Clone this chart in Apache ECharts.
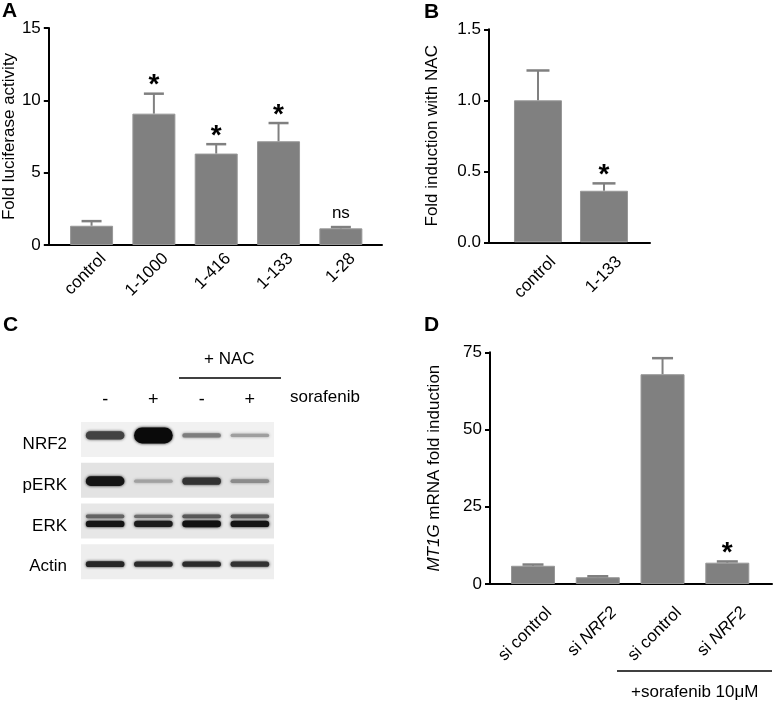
<!DOCTYPE html>
<html>
<head>
<meta charset="utf-8">
<script src="https://cdn.jsdelivr.net/npm/echarts@6/dist/echarts.min.js"></script>
<style>
  html, body { margin: 0; padding: 0; background: #fff; }
  #chart { width: 773px; height: 702px; }
</style>
</head>
<body>
<div id="chart"></div>
<script>
// panel A: luciferase reporter
const aCats = ['control', '1-1000', '1-416', '1-133', '1-28'];
const aMeans = [1.33, 9.08, 6.32, 7.17, 1.15];
const aErrTop = [1.65, 10.46, 6.97, 8.43, 1.24];
const aMarks = ['', '*', '*', '*', 'ns'];

// panel B: fold induction with NAC
const bCats = ['control', '1-133'];
const bMeans = [1.0, 0.363];
const bErrTop = [1.21, 0.415];
const bMarks = ['', '*'];

// panel D: MT1G mRNA
const dCats = ['si control', 'si NRF2', 'si control', 'si NRF2'];
const dMeans = [5.9, 2.2, 67.9, 6.9];
const dErrTop = [6.3, 2.5, 73.1, 7.3];
const dMarks = ['', '', '', '*'];

// panel C: western blot, band intensity 0..1 per lane
const blotRows = ['NRF2', 'pERK', 'ERK', 'Actin'];
const blotLanes = ['-', '+', '-', '+'];
const nrf2Band = [0.75, 1.0, 0.48, 0.33];
const perkBand = [0.95, 0.32, 0.82, 0.42];
const erkUpperBand = [0.6, 0.55, 0.65, 0.65];
const erkLowerBand = [0.95, 0.92, 0.97, 0.95];
const actinBand = [0.88, 0.85, 0.85, 0.82];

const FONT = '"Liberation Sans", Arial, sans-serif';
const BAR = '#808080';
const FS = 17;

const chart = echarts.init(document.getElementById('chart'));

// error bar + significance mark
const makeErr = (marks, capW) => (params, api) => {
  const x = api.value(0);
  const p0 = api.coord([x, api.value(1)]);
  const p1 = api.coord([x, api.value(2)]);
  const mark = marks[params.dataIndex];
  const kids = [
    { type: 'line', shape: { x1: p0[0], y1: p0[1], x2: p1[0], y2: p1[1] }, style: { stroke: BAR, lineWidth: 2 } },
    { type: 'line', shape: { x1: p1[0] - capW / 2, y1: p1[1], x2: p1[0] + capW / 2, y2: p1[1] }, style: { stroke: BAR, lineWidth: 2.5 } }
  ];
  if (mark) {
    const star = mark === '*';
    kids.push({
      type: 'text', x: p1[0], y: p1[1] - (star ? 8 : 14),
      style: { text: mark, fill: '#000', fontFamily: FONT, fontSize: star ? 28 : FS,
               fontWeight: star ? 'bold' : 'normal', align: 'center', verticalAlign: 'middle' }
    });
  }
  return { type: 'group', children: kids };
};

const barSeries = (idx, means, w) => ({
  type: 'bar', xAxisIndex: idx, yAxisIndex: idx, barWidth: w,
  data: means.map((v, i) => [i, v]),
  itemStyle: { color: BAR, borderColor: '#979797', borderWidth: 1 },
  z: 2
});
const errSeries = (idx, means, tops, marks, capW) => ({
  type: 'custom', xAxisIndex: idx, yAxisIndex: idx,
  data: means.map((v, i) => [i, v, tops[i]]),
  renderItem: makeErr(marks, capW),
  z: 3
});

const italic = { i: { fontStyle: 'italic', fontSize: FS, fontFamily: FONT, color: '#000' } };
// labels sit right of the bar centres in the original, so shift them a bit
const catAxis = (grid, cats, min, max, shift, margin, fmt) => ({
  gridIndex: grid, type: 'value', min: min, max: max,
  axisLine: { show: true, onZero: false, lineStyle: { color: '#000', width: 2 } },
  axisTick: { show: false }, splitLine: { show: false },
  axisLabel: {
    customValues: cats.map((c, i) => i + shift), rotate: 45, margin: margin,
    color: '#000', fontSize: FS, fontFamily: FONT,
    formatter: fmt || (v => cats[Math.round(v)]),
    rich: italic
  }
});
const valAxis = (grid, max, interval, name, gap, fmt) => ({
  gridIndex: grid, type: 'value', min: 0, max: max, interval: interval,
  axisLine: { show: true, onZero: false, lineStyle: { color: '#000', width: 2 } },
  axisTick: { show: true, length: 5, lineStyle: { color: '#000', width: 2 } },
  splitLine: { show: false },
  axisLabel: { color: '#000', fontSize: FS, fontFamily: FONT, margin: 8, formatter: fmt },
  name: name, nameLocation: 'middle', nameGap: gap,
  nameTextStyle: { color: '#000', fontSize: FS, fontFamily: FONT, rich: italic }
});

// blot band table built from the lane arrays: [lane, row, intensity, offset, max thickness]
const bandData = [];
nrf2Band.forEach((v, l) => bandData.push([l, 0, v, -4, 13]));
perkBand.forEach((v, l) => bandData.push([l, 1, v, 1, 8]));
erkUpperBand.forEach((v, l) => bandData.push([l, 2, v, -4.5, 3]));
erkLowerBand.forEach((v, l) => bandData.push([l, 2, v, 3, 4]));
actinBand.forEach((v, l) => bandData.push([l, 3, v, 2.5, 4]));
const rowShade = ['#f1f1f1', '#e3e3e3', '#e7e7e7', '#eeeeee'];

const option = {
  animation: false,
  backgroundColor: '#fff',
  textStyle: { fontFamily: FONT },
  grid: [
    { left: 43, top: 28, width: 339, height: 217 },
    { left: 489, top: 29.3, width: 161, height: 213 },
    { left: 81, top: 419, width: 193, height: 163 },
    { left: 490, top: 352.3, width: 282, height: 231.7 }
  ],
  xAxis: [
    catAxis(0, aCats, -0.686, 4.66, 0.19, 11),
    catAxis(1, bCats, -0.742, 1.697, 0.23, 17),
    {
      gridIndex: 2, type: 'category', data: blotLanes, position: 'top',
      axisLine: { show: false }, axisTick: { show: false },
      axisLabel: { color: '#000', fontSize: 18, fontFamily: FONT, margin: 10 }
    },
    catAxis(3, dCats, -0.664, 3.69, 0.25, 26, v => dCats[Math.round(v)].replace('NRF2', '{i|NRF2}'))
  ],
  yAxis: [
    valAxis(0, 15, 5, 'Fold luciferase activity', 27),
    valAxis(1, 1.5, 0.5, 'Fold induction with NAC', 48, v => v.toFixed(1)),
    {
      gridIndex: 2, type: 'category', data: blotRows, inverse: true,
      axisLine: { show: false }, axisTick: { show: false },
      axisLabel: { color: '#000', fontSize: FS, fontFamily: FONT, margin: 14,
                   verticalAlign: 'top', lineHeight: 10 }
    },
    valAxis(3, 75, 25, '{i|MT1G} mRNA fold induction', 47)
  ],
  series: [
    barSeries(0, aMeans, 43),
    errSeries(0, aMeans, aErrTop, aMarks, 20),
    barSeries(1, bMeans, 48),
    errSeries(1, bMeans, bErrTop, bMarks, 23),
    barSeries(3, dMeans, 44),
    errSeries(3, dMeans, dErrTop, dMarks, 21),
    {
      // blot strip backgrounds
      type: 'custom', xAxisIndex: 2, yAxisIndex: 2,
      data: blotRows.map((r, i) => [0, i]),
      renderItem: (params, api) => {
        const cs = params.coordSys;
        const c = api.coord([0, api.value(1)]);
        const h = 35;
        return { type: 'rect', shape: { x: cs.x, y: c[1] - h / 2, width: cs.width, height: h },
                 style: { fill: rowShade[params.dataIndex] } };
      },
      z: 1
    },
    {
      // blot bands
      type: 'custom', xAxisIndex: 2, yAxisIndex: 2,
      data: bandData,
      renderItem: (params, api) => {
        const v = api.value(2);
        const c = api.coord([api.value(0), api.value(1)]);
        const bw = api.size([1, 1])[0] * 0.8;
        const h = 3 + api.value(4) * Math.pow(v, 3);
        const g = Math.round(232 - 222 * v);
        const col = 'rgb(' + g + ',' + g + ',' + g + ')';
        return {
          type: 'rect',
          shape: { x: c[0] - bw / 2, y: c[1] + api.value(3) - h / 2, width: bw, height: h, r: h / 2 },
          style: { fill: col, shadowBlur: 3, shadowColor: col }
        };
      },
      z: 2
    }
  ],
  graphic: [
    { type: 'text', x: 2, y: 1, style: { text: 'A', font: 'bold 21px ' + FONT, fill: '#000' } },
    { type: 'text', x: 424, y: 2, style: { text: 'B', font: 'bold 21px ' + FONT, fill: '#000' } },
    { type: 'text', x: 3, y: 315, style: { text: 'C', font: 'bold 21px ' + FONT, fill: '#000' } },
    { type: 'text', x: 424, y: 315, style: { text: 'D', font: 'bold 21px ' + FONT, fill: '#000' } },
    { type: 'text', x: 290, y: 389, style: { text: 'sorafenib', font: '17px ' + FONT, fill: '#000' } },
    { type: 'text', x: 204, y: 351, style: { text: '+ NAC', font: '17px ' + FONT, fill: '#000' } },
    { type: 'line', shape: { x1: 179, y1: 378, x2: 281, y2: 378 }, style: { stroke: '#000', lineWidth: 1.5 } },
    { type: 'line', shape: { x1: 617, y1: 671, x2: 772, y2: 671 }, style: { stroke: '#000', lineWidth: 1.5 } },
    { type: 'text', x: 631, y: 684, style: { text: '+sorafenib 10μM', font: '17px ' + FONT, fill: '#000' } }
  ]
};

chart.setOption(option);
</script>
</body>
</html>
